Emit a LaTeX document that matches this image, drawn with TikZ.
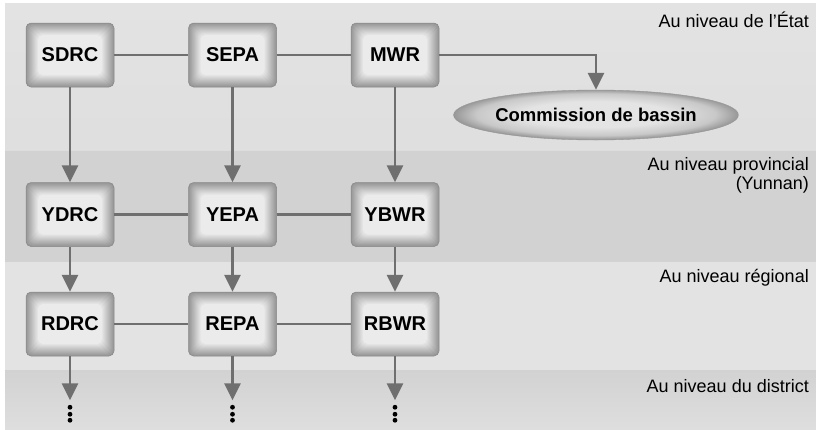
\documentclass[tikz,border=0pt]{standalone}
\usepackage{fontspec}
\setmainfont{Liberation Sans}
\usetikzlibrary{positioning,arrows.meta,shapes.geometric}
\usepackage{xcolor}
\definecolor{linegray}{HTML}{6F6F6F}
\definecolor{boxedge}{HTML}{979797}
\definecolor{boxmid}{HTML}{C8C8C8}
\definecolor{boxcore}{HTML}{EBEBEB}
\definecolor{bandlight}{HTML}{E3E3E3}
\definecolor{bandwhite}{HTML}{F8F8F8}
\definecolor{banddark}{HTML}{D2D2D2}
\definecolor{bandmid}{HTML}{DEDEDE}
\pgfdeclareradialshading{basinglow}{\pgfpoint{0bp}{1bp}}{%
  color(0bp)=(boxcore!97!black); color(13bp)=(boxcore!97!black); color(21bp)=(boxmid);
  color(25bp)=(boxedge); color(50bp)=(boxedge)}

\begin{document}
\begin{tikzpicture}[x=1pt, y=-1pt,
  every node/.style={font=\fontsize{18}{21}\selectfont, text=black},
  orgbox/.style={
    rounded corners=5pt,
    draw=boxedge!90!black, line width=0.5pt,
    fill=boxedge,
    path picture={
      \foreach \i in {1,...,12}{
        \pgfmathtruncatemacro\pc{\i*100/12}
        \fill[boxcore!\pc!boxedge, rounded corners=5pt]
          ([shift={(\i pt,-\i pt)}]path picture bounding box.north west) rectangle
          ([shift={(-\i pt,\i pt)}]path picture bounding box.south east);
      }
    },
    minimum width=88pt, minimum height=64pt,
    inner sep=0pt,
    font=\fontsize{20}{24}\selectfont\bfseries
  },
  basin/.style={
    ellipse,
    draw=boxedge, line width=0.4pt,
    shading=basinglow,
    minimum width=240pt, minimum height=50pt,
    inner sep=0pt,
    font=\fontsize{18.5}{22}\selectfont\bfseries
  },
  levellabel/.style={anchor=base east, align=right, inner sep=0pt},
  link/.style={linegray, line width=2.7pt},
  down/.style={link, -{Triangle[length=17pt, width=16pt]}}
]
  \useasboundingbox (0,0) rectangle (816,429);
  \fill[white] (0,0) rectangle (816,429);

  % Bandes de niveau
  \shade[top color=bandlight, middle color=bandwhite, bottom color=bandlight!98!black]
    (5,3) rectangle (816,151);
  \shade[top color=banddark, middle color=bandmid, bottom color=banddark]
    (5,151) rectangle (816,262);
  \shade[top color=bandlight, middle color=bandwhite, bottom color=bandlight]
    (5,262) rectangle (816,370);
  \shade[top color=banddark, middle color=bandmid, bottom color=bandmid]
    (5,370) rectangle (816,429);

  % Libellés des niveaux
  \node[levellabel] (lstate) at (809,27) {Au niveau de l'État};
  \node[levellabel, font=\fontsize{18}{19.5}\selectfont] (lprov) at (809,189.5)
    {Au niveau provincial\\(Yunnan)};
  \node[levellabel] (lreg) at (809,282) {Au niveau régional};
  \node[levellabel] (ldist) at (809,392) {Au niveau du district};

  % Niveau de l'État
  \node[orgbox] (sdrc) at (70,55) {SDRC};
  \node[orgbox, right=74pt of sdrc] (sepa) {SEPA};
  \node[orgbox, right=74pt of sepa] (mwr) {MWR};
  \node[basin] (comm) at (596,115) {Commission de bassin};

  % Niveau provincial
  \node[orgbox, below=95pt of sdrc] (ydrc) {YDRC};
  \node[orgbox, below=95pt of sepa] (yepa) {YEPA};
  \node[orgbox, below=95pt of mwr] (ybwr) {YBWR};

  % Niveau régional
  \node[orgbox, below=45pt of ydrc] (rdrc) {RDRC};
  \node[orgbox, below=45pt of yepa] (repa) {REPA};
  \node[orgbox, below=45pt of ybwr] (rbwr) {RBWR};

  % Niveau du district
  \coordinate (ddrc) at ([yshift=-44pt]rdrc.south);
  \coordinate (depa) at ([yshift=-44pt]repa.south);
  \coordinate (dbwr) at ([yshift=-44pt]rbwr.south);

  % Liaisons horizontales
  \draw[link] (sdrc) -- (sepa);
  \draw[link] (sepa) -- (mwr);
  \draw[link] (ydrc) -- (yepa);
  \draw[link] (yepa) -- (ybwr);
  \draw[link] (rdrc) -- (repa);
  \draw[link] (repa) -- (rbwr);
  \draw[down] (mwr.east) -| (comm.north);

  % Flèches vers le bas
  \draw[down] (sdrc) -- (ydrc);
  \draw[down] (sepa) -- (yepa);
  \draw[down] (mwr) -- (ybwr);
  \draw[down] (ydrc) -- (rdrc);
  \draw[down] (yepa) -- (repa);
  \draw[down] (ybwr) -- (rbwr);
  \draw[down] (rdrc) -- (ddrc);
  \draw[down] (repa) -- (depa);
  \draw[down] (rbwr) -- (dbwr);

  % Points de suspension
  \foreach \c in {ddrc,depa,dbwr}
    \foreach \dy in {7,14,20}
      \fill[black] ([yshift=-\dy pt]\c) circle (2.4pt);
\end{tikzpicture}
\end{document}
